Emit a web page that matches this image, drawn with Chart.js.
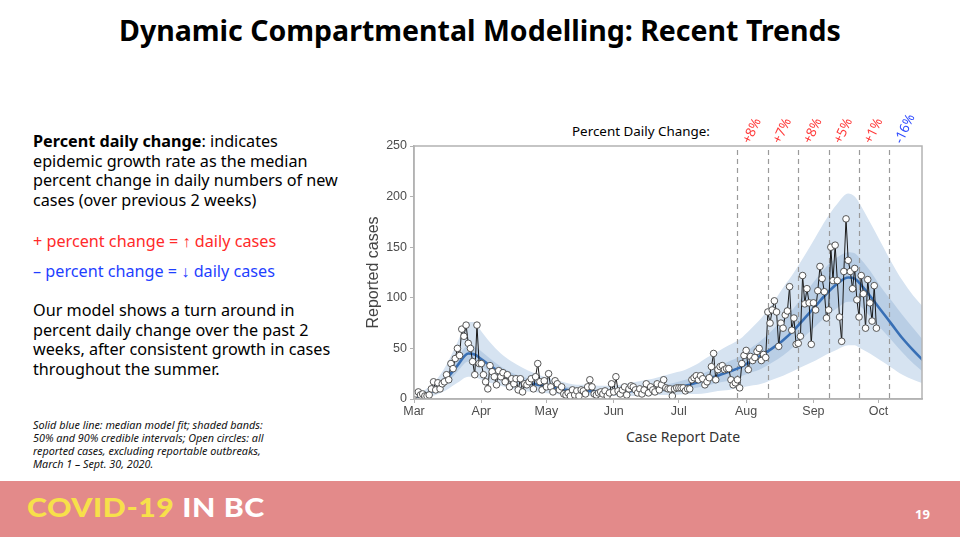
<!DOCTYPE html>
<html><head><meta charset="utf-8">
<script src="https://cdn.jsdelivr.net/npm/chart.js@4.4.0/dist/chart.umd.min.js"></script>
<style>
body{margin:0;width:960px;height:537px;overflow:hidden;background:#fff;font-family:"Noto Sans",sans-serif;position:relative;color:#000}
.abs{position:absolute;white-space:nowrap}
#title{left:0;width:960px;top:11px;text-align:center;font-weight:700;font-size:28.5px;}
#desc{left:33px;top:132px;font-size:16.2px;line-height:19.5px}
#plus{left:33px;top:232px;font-size:16.2px;line-height:19.5px;color:#ff2a2a}
#minus{left:33px;top:262px;font-size:16.2px;line-height:19.5px;color:#1f3fff}
#para{left:33px;top:301px;font-size:16.2px;line-height:19.5px}
#note{left:33px;top:418px;font-size:10.8px;line-height:13px;font-style:italic;color:#111}
#footer{left:0;top:481px;width:960px;height:56px;background:#e38a8a}
#brand{left:27px;top:490px;font-family:Lato,sans-serif;font-weight:900;font-size:27px;letter-spacing:0.5px;transform:scaleX(1.12);transform-origin:0 0}
#page{left:915px;top:505px;font-size:13px;font-weight:700;color:#fff}
#pdc{left:572px;top:122px;font-size:13.4px}
#xtitle{left:583px;width:200px;top:427px;text-align:center;font-size:14px;color:#333}
#wrap{left:340px;top:100px;width:620px;height:360px}
</style></head>
<body>
<div id="title" class="abs">Dynamic Compartmental Modelling: Recent Trends</div>
<div id="desc" class="abs"><b>Percent daily change</b>: indicates<br>epidemic growth rate as the median<br>percent change in daily numbers of new<br>cases (over previous 2 weeks)</div>
<div id="plus" class="abs">+ percent change = ↑ daily cases</div>
<div id="minus" class="abs">– percent change = ↓ daily cases</div>
<div id="para" class="abs">Our model shows a turn around in<br>percent daily change over the past 2<br>weeks, after consistent growth in cases<br>throughout the summer.</div>
<div id="note" class="abs">Solid blue line: median model fit; shaded bands:<br>50% and 90% credible intervals; Open circles: all<br>reported cases, excluding reportable outbreaks,<br>March 1 – Sept. 30, 2020.</div>
<div id="pdc" class="abs">Percent Daily Change:</div>
<div id="xtitle" class="abs">Case Report Date</div>
<div id="wrap" class="abs"><canvas id="c"></canvas></div>
<div id="footer" class="abs"></div>
<div id="brand" class="abs"><span style="color:#f7e04a">COVID-19</span> <span style="color:#fff">IN BC</span></div>
<div id="page" class="abs">19</div>
<script>
// Daily reported cases, Mar 1 (day 0) to Sep 30 (day 213)
const casesMar = [3,5,7,4,5,3,3,4,10,17,9,16,10,15,17,24,19,35,30,40,50,43,69,62,73,55,50,37,24,73,35];
const casesApr = [35,24,17,10,33,27,22,14,28,22,26,17,24,12,20,15,20,9,20,7,15,14,17,20,10,22,35,17,9,18];
const casesMay = [12,25,12,7,18,15,9,12,5,4,6,3,9,4,8,3,9,8,5,12,19,12,5,4,6,7,5,8,3,6,15];
const casesJun = [7,22,8,5,9,12,4,10,13,12,9,6,10,5,9,15,6,12,9,7,15,9,14,19,11,10,10,3,10,11];
const casesJul = [11,11,11,8,10,10,19,21,23,19,23,20,14,17,21,32,45,19,29,32,33,29,30,30,19,14,16,19,11,35,43];
const casesAug = [48,29,42,38,41,47,50,38,44,41,86,75,88,97,86,52,75,70,83,87,111,68,80,54,55,62,122,94,109,95,54];
const casesSep = [95,88,107,131,119,106,80,88,150,117,152,117,81,57,126,178,137,126,109,129,98,81,122,104,70,118,95,77,112,70];

// Model fit, sampled days since Mar 1
const modelDays = [0,5,10,15,20,25,28,30,35,40,45,50,55,60,65,70,75,80,85,90,95,100,105,110,115,120,125,130,135,140,145,150,155,160,165,170,175,180,185,190,195,200,203,205,210,215,220,225,230,235];
const lo90 =   [0,1,4,9,16,22,22,20,16,13,10,8,7,6,5,4,3,3,3,3,3,3,3,4,4,4,5,5,6,8,9,11,13,15,19,23,28,33,38,44,49,53,53,51,45,38,31,24,19,15];
const lo50 =   [1,3,7,15,27,37,36,34,27,21,17,14,12,10,8,7,6,6,5,5,5,6,6,7,7,8,9,11,13,16,18,22,26,30,36,43,52,62,72,82,90,96,96,93,82,70,58,46,35,26];
const median = [2,4,10,20,33,45,44,41,33,26,21,18,15,13,11,9,8,8,7,7,7,8,9,9,10,12,13,16,20,23,27,31,37,43,50,58,68,80,92,104,114,120,119,115,102,88,74,60,48,37];
const hi50 =   [3,6,13,25,40,53,52,49,40,32,26,22,19,16,14,12,10,10,9,9,10,11,12,13,14,16,19,22,27,32,37,42,50,58,68,79,90,104,118,131,140,145,144,140,127,111,97,83,70,57];
const hi90 =   [5,9,18,34,56,76,76,70,56,45,37,31,26,22,19,16,14,14,13,13,14,16,18,20,23,26,29,34,41,47,53,59,69,80,94,110,125,142,160,178,193,203,200,194,175,155,135,117,102,90];

// Axis ticks
const monthDays = [0,31,61,92,122,153,184,214];
const monthLabels = ['Mar','Apr','May','Jun','Jul','Aug','Sep','Oct'];
const yTicks = [0,50,100,150,200,250];

// Percent daily change markers
const changeDays = [149,163,177,191,205,219];
const changeLabels = ['+8%','+7%','+8%','+5%','+1%','-16%'];
const changeColors = ['#ff3b3b','#ff3b3b','#ff3b3b','#ff3b3b','#ff3b3b','#2f4cff'];

const reported = [].concat(casesMar,casesApr,casesMay,casesJun,casesJul,casesAug,casesSep);
const obsPts = reported.map((v,i)=>({x:i,y:v}));
const mk = arr => arr.map((v,i)=>({x:modelDays[i],y:v}));

const LIGHT='rgb(214,227,241)', DARK='rgb(185,206,229)', LINE='rgb(56,111,181)';

const changePlugin = {
  id:'changes',
  afterDatasetDraw(chart,args){
    if(args.index!==3) return;
    const {ctx,chartArea,scales:{x}} = chart;
    ctx.save();
    ctx.strokeStyle='#9a9a9a'; ctx.lineWidth=1.2; ctx.setLineDash([5,4]);
    changeDays.forEach((d,i)=>{
      const px=Math.round(x.getPixelForValue(d))+0.5;
      ctx.beginPath(); ctx.moveTo(px,chartArea.top+4); ctx.lineTo(px,chartArea.bottom); ctx.stroke();
    });
    ctx.setLineDash([]);
    ctx.font='13.5px "Noto Sans", sans-serif';
    ctx.textAlign='left'; ctx.textBaseline='middle';
    changeDays.forEach((d,i)=>{
      const px=x.getPixelForValue(d);
      ctx.save(); ctx.translate(px+9,chartArea.top-3); ctx.rotate(-65*Math.PI/180);
      ctx.fillStyle=changeColors[i]; ctx.fillText(changeLabels[i],0,0); ctx.restore();
    });
    ctx.restore();
  },
  afterDatasetsDraw(chart){
    const {ctx,chartArea:a} = chart;
    ctx.save(); ctx.strokeStyle='#b3b3b3'; ctx.lineWidth=1.5;
    ctx.strokeRect(a.left,a.top,a.right-a.left,a.bottom-a.top); ctx.restore();
  }
};

new Chart(document.getElementById('c'),{
  type:'line',
  data:{datasets:[
    {data:mk(lo90),borderWidth:0,pointRadius:0,fill:false,order:3,cubicInterpolationMode:'monotone'},
    {data:mk(hi90),borderWidth:0,pointRadius:0,fill:'-1',backgroundColor:LIGHT,order:3,cubicInterpolationMode:'monotone'},
    {data:mk(lo50),borderWidth:0,pointRadius:0,fill:false,order:2,cubicInterpolationMode:'monotone'},
    {data:mk(hi50),borderWidth:0,pointRadius:0,fill:'-1',backgroundColor:DARK,order:2,cubicInterpolationMode:'monotone'},
    {data:mk(median),borderColor:LINE,borderWidth:2.6,pointRadius:0,fill:false,order:1,cubicInterpolationMode:'monotone'},
    {data:obsPts,borderColor:'#1a1a1a',borderWidth:1,pointRadius:3.3,pointBackgroundColor:'#fff',pointBorderColor:'#444',pointBorderWidth:0.9,fill:false,order:0,tension:0}
  ]},
  options:{
    responsive:true,maintainAspectRatio:false,animation:false,
    layout:{padding:{left:14,right:38,top:46,bottom:11}},
    plugins:{legend:{display:false},tooltip:{enabled:false}},
    scales:{
      x:{type:'linear',min:0,max:234,
        afterBuildTicks:axis=>{axis.ticks=monthDays.map(v=>({value:v}));},
        afterFit:s=>{s.height=50;},
        ticks:{autoSkip:false,maxRotation:0,color:'#4d4d4d',font:{family:'"Liberation Sans", Arial',size:12.5},padding:1,
          callback:v=>monthLabels[monthDays.indexOf(v)]},
        grid:{drawOnChartArea:false,drawTicks:true,tickLength:4,color:'#b3b3b3'},
        border:{display:true,color:'#b3b3b3',width:1.5},
        title:{display:false}
      },
      y:{min:0,max:250,
        afterBuildTicks:axis=>{axis.ticks=yTicks.map(v=>({value:v}));},
        afterFit:s=>{s.width=60;},
        ticks:{color:'#4d4d4d',font:{family:'"Liberation Sans", Arial',size:12.5},padding:3},
        grid:{drawOnChartArea:false,drawTicks:true,tickLength:4,color:'#b3b3b3'},
        border:{display:true,color:'#b3b3b3',width:1.5},
        title:{display:true,text:'Reported cases',color:'#444',font:{family:'"Liberation Sans", Arial',size:16},padding:{top:10,bottom:0}}
      }
    }
  },
  plugins:[changePlugin]
});
</script>
</body></html>
